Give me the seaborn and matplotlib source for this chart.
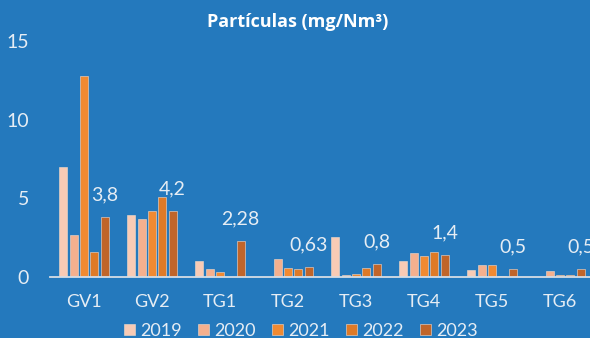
import matplotlib
matplotlib.use("Agg")
import matplotlib.pyplot as plt
import seaborn as sns
import pandas as pd

# data
units = ["GV1", "GV2", "TG1", "TG2", "TG3", "TG4", "TG5", "TG6"]
years = ["2019", "2020", "2021", "2022", "2023"]
v2019 = [7.0, 3.95, 1.0, 0.0, 2.55, 1.04, 0.45, 0.0]
v2020 = [2.67, 3.7, 0.53, 1.17, 0.1, 1.5, 0.77, 0.37]
v2021 = [12.75, 4.2, 0.3, 0.6, 0.2, 1.35, 0.77, 0.1]
v2022 = [1.6, 5.1, 0.0, 0.53, 0.6, 1.6, 0.08, 0.1]
v2023 = [3.8, 4.2, 2.28, 0.63, 0.8, 1.4, 0.5, 0.5]
labels_2023 = ["3,8", "4,2", "2,28", "0,63", "0,8", "1,4", "0,5", "0,5"]

colors = ["#F8CBB5", "#F4B08E", "#F08A32", "#DE7A27", "#C0652A"]
bg = "#2479BD"
txt = "#E6EDF4"

rows = []
for yr, vals in zip(years, [v2019, v2020, v2021, v2022, v2023]):
    for u, v in zip(units, vals):
        rows.append({"unit": u, "year": yr, "value": v})
df = pd.DataFrame(rows)

sns.set_style("white")
plt.rcParams["font.family"] = ["Lato", "DejaVu Sans"]

fig = plt.figure(figsize=(5.9, 3.38), dpi=100, facecolor=bg)
ax = fig.add_axes([0.0847, 0.1805, 0.922, 0.698])
ax.set_facecolor(bg)

sns.barplot(data=df, x="unit", y="value", hue="year", hue_order=years,
            palette=colors, saturation=1, width=0.76, gap=0.22, ax=ax,
            edgecolor="#f6dccb", linewidth=0.4, legend=True)

ax.set_xlim(-0.5, 7.5)
ax.set_ylim(0, 15)
ax.set_yticks([0, 5, 10, 15])
ax.set_xlabel("")
ax.set_ylabel("")
for s in ["top", "right", "left"]:
    ax.spines[s].set_visible(False)
ax.spines["bottom"].set_color("#D6DDE5")
ax.spines["bottom"].set_linewidth(1.3)
ax.tick_params(axis="y", length=0, pad=15, labelsize=14, labelcolor=txt)
ax.tick_params(axis="x", length=0, pad=12, labelsize=13, labelcolor=txt)

# labels above 2023 bars
for p, lab in zip(ax.containers[4], labels_2023):
    xc = p.get_x() + p.get_width() / 2
    ax.annotate(lab, (xc, p.get_height()), xytext=(0, 16),
                textcoords="offset points", ha="center", va="center",
                fontsize=14, color=txt)

ax.set_title("Partículas (mg/Nm³)", color="white", fontsize=13,
             fontweight="bold", family=["Open Sans", "DejaVu Sans"],
             x=0.455, y=1.025)

handles, lbls = ax.get_legend_handles_labels()
ax.legend_.remove()
fig.legend(handles, lbls, loc="lower center", bbox_to_anchor=(0.51, -0.05),
           ncol=5, frameon=False, fontsize=13, labelcolor=txt,
           handlelength=0.6, handleheight=0.6, handletextpad=0.3,
           columnspacing=0.9)

fig.savefig("out.png", dpi=100, facecolor=bg)
